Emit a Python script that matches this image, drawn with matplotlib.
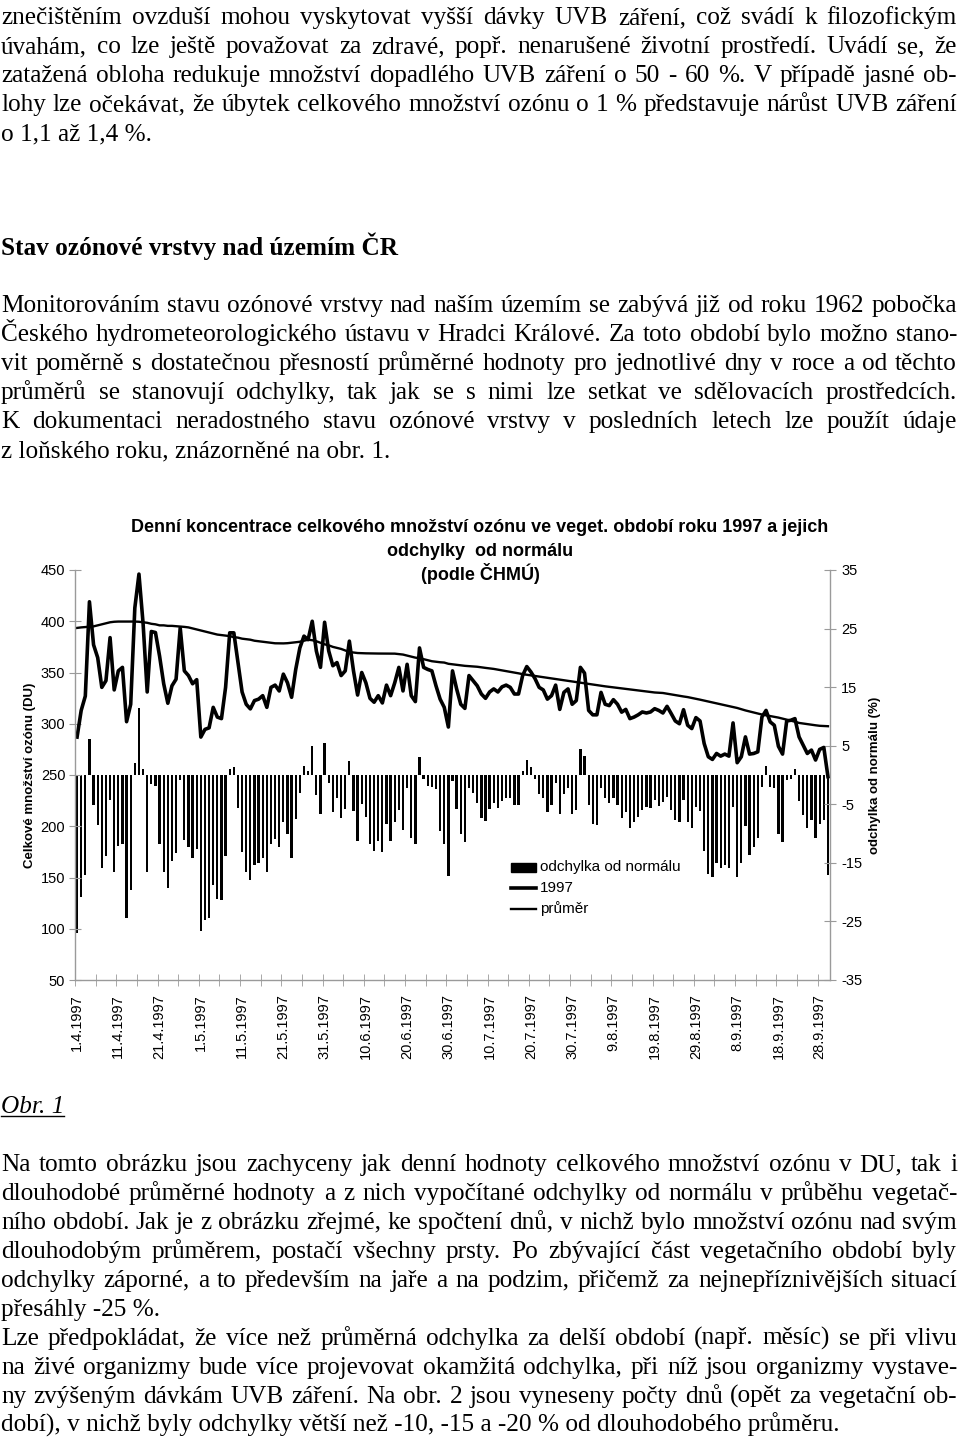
import numpy as np
import matplotlib
matplotlib.use('Agg')
import matplotlib.pyplot as plt
from matplotlib.lines import Line2D
from matplotlib.patches import Rectangle

plt.rcParams['axes.unicode_minus'] = False

# ---------------- data ----------------
# daily total ozone 1997, 1.4. - 30.9. (DU)
ozone_1997 = [
    287, 313, 327, 419, 377, 364.5, 335.5, 342, 384, 333,
    351.6, 355, 302, 319, 413, 446, 398, 331, 390, 389,
    366, 339, 320, 337, 343.5, 393.5, 351.6, 347, 339, 343,
    287, 294.5, 296, 316, 306.5, 305, 335.5, 388.7, 388.7, 359.7,
    331, 319, 314.5, 322.6, 324,
    327.4, 316, 335.5, 337.7, 332, 348.4, 340, 325.8, 353, 374,
    385.5, 382, 400, 371, 355, 399, 371, 356.6, 359.7, 347,
    351.6, 380.6, 351.6, 328, 350, 340, 324.8, 321, 327.4, 320.3,
    337.7, 327.4, 340, 355, 332, 358, 327.4, 321.6, 374, 355,
    353, 351.6, 337, 324, 316, 296.8,
    351.6, 334, 319, 315, 347, 342, 337, 329, 324.8,
    331, 334, 331, 336, 337.7, 335.5, 329, 329, 347, 355.8,
    350.6, 344, 335.5, 333, 324, 327.4, 337.7, 314, 330.6, 334,
    319, 322.6, 355, 349.4, 313, 308.7, 308.7, 330.6, 319, 317.7,
    323.5, 319, 311.3, 314, 305, 306.5, 308.7,
    311.5, 310.5, 311.5,
    314.7, 313, 310.5, 317, 310, 302.7, 300, 313.7, 298.5, 295.3,
    306, 302.7, 280.7, 267.8, 265.2, 271, 268.4, 270.4, 268.4, 300.8,
    262, 267.8, 287.2, 270.4, 271, 272.6, 306.6, 313, 301.8, 298.5,
    278, 270.4, 302.7, 303.4, 305, 287.2, 279, 271, 274.3, 264.6,
    275, 276.9, 248.4,
]

# long-term mean (DU)
ozone_avg = [
    393.5, 394, 394.3, 394.6, 395, 396, 397, 398, 399, 399.5,
    399.7, 399.7, 399.7, 399.7, 399.7, 399.5, 399, 398.5, 397.5, 397,
    396, 396, 395.5, 395.5, 395.2, 395, 394.5, 394, 393, 392,
    391, 390, 389, 388, 387, 386.5, 386, 385.5, 384.5, 384,
    383, 382.5, 382, 381, 380.5, 380, 379.5, 379, 378.5, 378.4,
    378.4, 378.6, 379, 379.5, 380, 381, 382, 381.5, 380.5, 379,
    377.5, 376.5, 375, 374, 373, 371.5, 370, 369.5, 369, 368.8,
    368.7, 368.6, 368.5, 368.5, 368.5, 368.4, 368.4, 368.4, 368, 367.5,
    366.5, 365.5, 364.5, 364, 363, 362, 361, 360.5, 360, 359.7,
    358.5, 358, 357.5, 357, 356.5, 356.2, 356, 355.6, 355, 354.5,
    354, 353.5, 352.8, 352, 351.3, 350.6, 350, 349.2, 348.4, 347.8,
    347.2, 346.6, 346, 345.4, 344.8, 344.2, 343.5, 343, 342.4, 341.8,
    341.2, 340.6, 340, 339.4, 338.7, 338.2, 337.6, 337, 336.5, 336,
    335.5, 335, 334.5, 334, 333.5, 333, 332.5, 332, 331.5, 331,
    330.5, 330.2, 330, 329.3, 328.6, 328, 327.3, 326.6, 326, 325.2,
    324.4, 323.5, 322.6, 321.7, 320.8, 320, 319, 318, 317.2, 316.3,
    315.4, 314.2, 313, 312, 311, 310, 309, 308.2, 307.5, 306.8,
    306, 305, 304, 303, 302, 300.8, 300.2, 299.6, 299, 298.5,
    298, 297.8, 297.6,
]

# deviation from normal (%)
deviation = [
    -27.0, -20.8, -17.0, 6.1, -5.1, -8.6, -15.8, -13.8, -4.2, -16.6,
    -12.2, -11.7, -24.4, -19.6, 2.0, 11.5, 1.0, -16.5, -1.6, -1.9,
    -11.7, -16.6, -19.3, -14.6, -13.3, -0.9, -11.1, -12.3, -14.1, -12.6,
    -26.7, -24.7, -24.4, -18.7, -21.1, -21.3, -13.9, 1.0, 1.4, -5.6,
    -13.2, -16.6, -17.9, -15.4, -15.1,
    -14.1, -16.5, -11.8, -10.9, -12.3, -8.1, -10.1, -14.1, -7.5, -3.0,
    1.5, 0.6, 5.0, -3.5, -6.7, 5.5, -1.4, -6.3, -4.0, -7.3,
    -5.8, 2.4, -6.1, -11.3, -4.9, -7.1, -11.7, -12.9, -11.3, -13.1,
    -8.4, -11.3, -8.0, -6.0, -9.4, -2.3, -10.8, -11.8, 3.0, -0.6,
    -1.9, -2.0, -2.4, -9.6, -11.8, -17.2,
    -1.1, -5.8, -10.0, -11.4, -2.3, -3.1, -4.7, -7.3, -7.9,
    -5.8, -4.8, -5.6, -4.4, -3.9, -3.9, -5.2, -5.2, 0.6, 2.6,
    1.4, -0.7, -3.3, -3.9, -6.3, -5.1, -1.3, -6.7, -3.3, -2.2,
    -6.6, -6.0, 4.4, 3.3, -5.1, -8.3, -8.6, -2.3, -4.0, -4.8,
    -3.9, -5.1, -7.3, -6.4, -9.1, -8.0, -7.1,
    -6.0, -5.4, -5.7,
    -4.3, -5.3, -4.6, -3.7, -6.0, -7.7, -8.0, -4.3, -8.0, -9.1,
    -5.4, -6.1, -13.0, -16.9, -17.4, -15.0, -15.9, -15.4, -15.9, -5.4,
    -17.4, -15.0, -8.7, -13.6, -12.3, -10.8, -2.0, 1.6, -2.0, -2.3,
    -10.0, -11.4, -0.8, -0.7, 1.0, -4.4, -6.8, -9.0, -7.6, -10.7,
    -8.4, -7.6, -17.0,
]

date_labels = ['1.4.1997', '11.4.1997', '21.4.1997', '1.5.1997', '11.5.1997',
               '21.5.1997', '31.5.1997', '10.6.1997', '20.6.1997', '30.6.1997',
               '10.7.1997', '20.7.1997', '30.7.1997', '9.8.1997', '19.8.1997',
               '29.8.1997', '8.9.1997', '18.9.1997', '28.9.1997']

text_top = [
    "znečištěním ovzduší mohou vyskytovat vyšší dávky UVB záření, což svádí k filozofickým",
    "úvahám, co lze ještě považovat za zdravé, popř. nenarušené životní prostředí. Uvádí se, že",
    "zatažená obloha redukuje množství dopadlého UVB záření o 50 - 60 %. V případě jasné ob-",
    "lohy lze očekávat, že úbytek celkového množství ozónu o 1 % představuje nárůst UVB záření",
    "o 1,1 až 1,4 %.",
]
heading = "Stav ozónové vrstvy nad územím ČR"
text_mid = [
    "Monitorováním stavu ozónové vrstvy nad naším územím se zabývá již od roku 1962 pobočka",
    "Českého hydrometeorologického ústavu v Hradci Králové. Za toto období bylo možno stano-",
    "vit poměrně s dostatečnou přesností průměrné hodnoty pro jednotlivé dny v roce a od těchto",
    "průměrů se stanovují odchylky, tak jak se s nimi lze setkat ve sdělovacích prostředcích.",
    "K dokumentaci neradostného stavu ozónové vrstvy v posledních letech lze použít údaje",
    "z loňského roku, znázorněné na obr. 1.",
]
text_bottom = [
    "Na tomto obrázku jsou zachyceny jak denní hodnoty celkového množství ozónu v DU, tak i",
    "dlouhodobé průměrné hodnoty a z nich vypočítané odchylky od normálu v průběhu vegetač-",
    "ního období. Jak je z obrázku zřejmé, ke spočtení dnů, v nichž bylo množství ozónu nad svým",
    "dlouhodobým průměrem, postačí všechny prsty. Po zbývající část vegetačního období byly",
    "odchylky záporné, a to především na jaře a na podzim, přičemž za nejnepříznivějších situací",
    "přesáhly -25 %.",
    "Lze předpokládat, že více než  průměrná odchylka za delší období (např. měsíc) se při vlivu",
    "na živé organizmy bude více projevovat okamžitá odchylka, při níž jsou  organizmy vystave-",
    "ny zvýšeným dávkám UVB záření. Na obr. 2 jsou vyneseny počty dnů (opět za vegetační ob-",
    "dobí), v nichž byly odchylky větší než -10, -15 a -20 % od dlouhodobého průměru.",
]
bottom_left = {5, 9}

# ---------------- page ----------------
W, H = 960, 1444
fig = plt.figure(figsize=(W / 100, H / 100), dpi=100)
renderer = fig.canvas.get_renderer()

SERIF = dict(fontfamily='Liberation Serif', fontsize=18.2, color='black')
SANS = 'Liberation Sans'
GRAY = '#9a9a9a'


def text_line(y, s, justify=True, x0=1, x1=957, **kw):
    """one line of body text, baseline at y px; justified between x0 and x1"""
    fy = 1 - y / H
    if not justify:
        return fig.text(x0 / W, fy, s, va='baseline', ha='left', **kw)
    words = s.split()
    objs = [fig.text(0, fy, w, va='baseline', ha='left', **kw) for w in words]
    widths = [o.get_window_extent(renderer).width for o in objs]
    gap = (x1 - x0 - sum(widths)) / (len(words) - 1)
    x = x0
    for o, w in zip(objs, widths):
        o.set_x(x / W)
        x += w + gap


for i, s in enumerate(text_top):
    text_line(24 + 29 * i, s, justify=(i < len(text_top) - 1), **SERIF)

fig.text(1 / W, 1 - 255 / H, heading, va='baseline', ha='left',
         fontweight='bold', **SERIF)

for i, s in enumerate(text_mid):
    text_line(312 + 29 * i, s, justify=(i < len(text_mid) - 1), **SERIF)

# caption "Obr. 1" (italic, underlined)
cap = fig.text(1 / W, 1 - 1113 / H, 'Obr. 1', va='baseline', ha='left',
               fontstyle='italic', **SERIF)
cw = cap.get_window_extent(renderer).width
fig.add_artist(Line2D([1 / W, (1 + cw) / W], [1 - 1116 / H] * 2,
                      color='black', lw=1.0))

for i, s in enumerate(text_bottom):
    text_line(1171 + 29 * i, s, justify=(i not in bottom_left), **SERIF)

# ---------------- chart ----------------
ax = fig.add_axes([75 / W, 1 - 980 / H, 755 / W, 410 / H])
ax2 = ax.twinx()
days = np.arange(len(ozone_1997))

ax2.bar(days, deviation, width=0.55, color='black', linewidth=0)
ax.plot(days, ozone_avg, color='black', lw=1.7, solid_joinstyle='round')
ax.plot(days, ozone_1997, color='black', lw=2.6, solid_joinstyle='round')
ax.set_zorder(ax2.get_zorder() + 1)
ax.patch.set_visible(False)

ax.set_xlim(-0.5, len(days) - 0.5)
ax.set_ylim(50, 450)
ax2.set_ylim(-35, 35)
ax.set_yticks(np.arange(50, 451, 50))
ax2.set_yticks(np.arange(-35, 36, 10))

for sp in ['top', 'right']:
    ax.spines[sp].set_visible(False)
for sp in ['top', 'left', 'bottom']:
    ax2.spines[sp].set_visible(False)
for sp in [ax.spines['left'], ax.spines['bottom'], ax2.spines['right']]:
    sp.set_color(GRAY)
    sp.set_linewidth(1.0)

ax.set_xticks(days[::10])
ax.set_xticklabels(date_labels, rotation=90, fontfamily=SANS, fontsize=10.5)
ax.set_xticks(np.arange(-0.5, len(days), 5), minor=True)
ax.tick_params(axis='x', which='major', length=0, pad=10)
ax.tick_params(axis='x', which='minor', length=8, direction='inout', color=GRAY)
ax.tick_params(axis='y', length=8, direction='inout', color=GRAY, pad=3,
               labelsize=10.5)
ax2.tick_params(axis='y', length=8, direction='inout', color=GRAY, pad=4,
                labelsize=10.5)
for lab in ax.get_yticklabels() + ax2.get_yticklabels():
    lab.set_fontfamily(SANS)

# axis titles
fig.text(30 / W, 1 - 775 / H, 'Celkové množství ozónu (DU)', rotation=90,
         ha='center', va='center', fontfamily=SANS, fontweight='bold', fontsize=9.5)
fig.text(875 / W, 1 - 775 / H, 'odchylka od normálu (%)', rotation=90,
         ha='center', va='center', fontfamily=SANS, fontweight='bold', fontsize=9.5)

# chart title
title_lines = ['Denní koncentrace celkového množství ozónu ve veget. období roku 1997 a jejich',
               'odchylky  od normálu', '(podle ČHMÚ)']
for y, s in zip([527, 551, 574], title_lines):
    fig.text(480 / W, 1 - y / H, s, ha='center', va='center', fontfamily=SANS,
             fontweight='bold', fontsize=13)

# legend
fig.add_artist(Rectangle((511 / W, 1 - 872 / H), 25 / W, 9 / H,
                         transform=fig.transFigure, color='black'))
fig.add_artist(Line2D([511 / W, 536 / W], [1 - 888 / H] * 2, color='black', lw=2.6))
fig.add_artist(Line2D([511 / W, 536 / W], [1 - 909 / H] * 2, color='black', lw=1.7))
for y, s in zip([867, 888, 909], ['odchylka od normálu', '1997', 'průměr']):
    fig.text(540 / W, 1 - y / H, s, ha='left', va='center', fontfamily=SANS,
             fontsize=11)

fig.savefig('out.png', dpi=100, facecolor='white')
